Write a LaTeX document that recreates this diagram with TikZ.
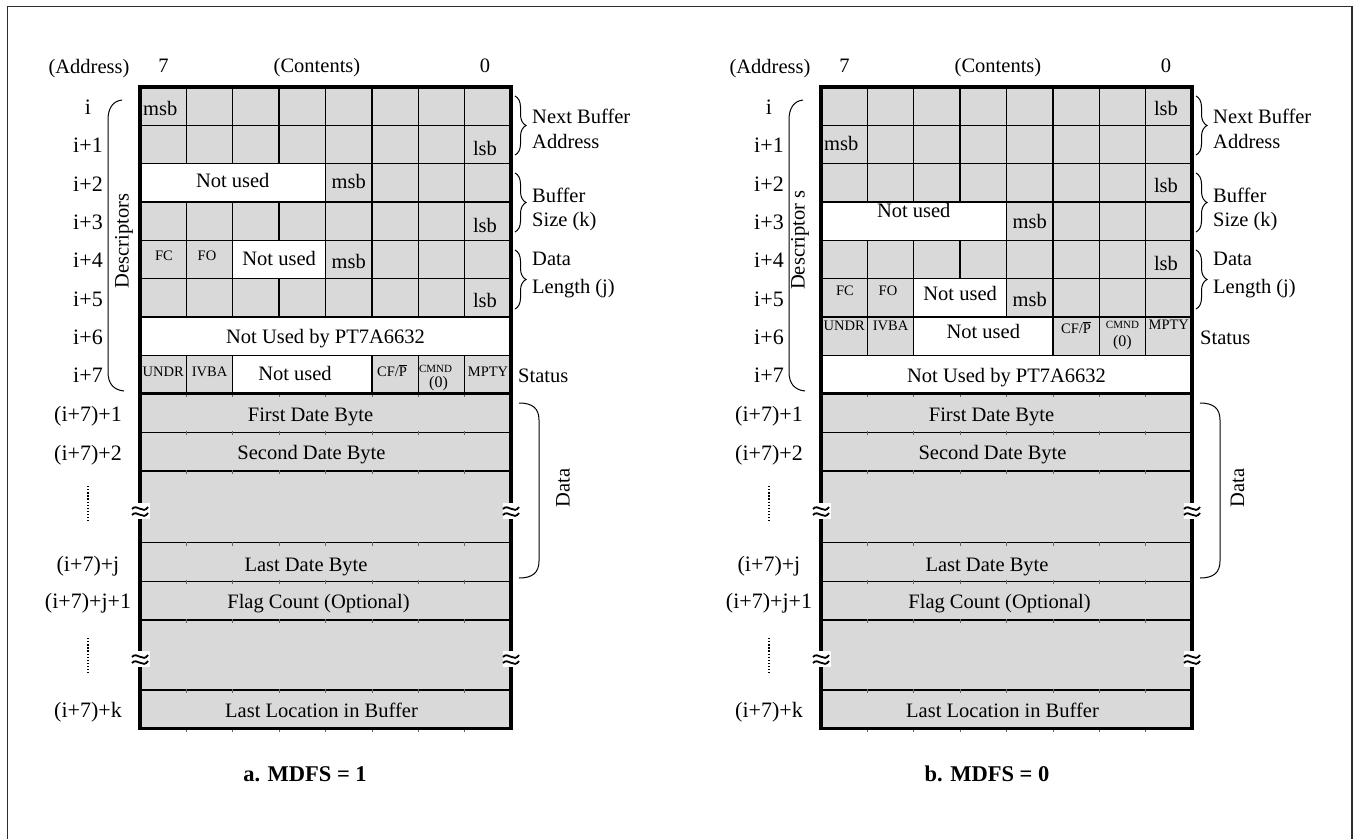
\documentclass[tikz,border=0pt]{standalone}
\usepackage{fontspec}
\setmainfont{Liberation Serif}
\usetikzlibrary{decorations.pathreplacing}
\definecolor{cellgray}{RGB}{217,217,217}
\definecolor{framegray}{RGB}{45,45,45}
\newcommand{\cw}{46.375}
\newcommand{\breakmark}[2]{%
  \fill[white] (#1-8,#2-8) rectangle (#1+10,#2+8);
  \draw[line width=1.8pt] (#1-8,#2-2) .. controls (#1-3,#2-8) and (#1+3,#2+4) .. (#1+8,#2-4);
  \draw[line width=1.8pt] (#1-8,#2+4) .. controls (#1-3,#2-2) and (#1+3,#2+10) .. (#1+8,#2+2);
}
\newcommand{\tablebase}{%
  \fill[cellgray] (0,87) rectangle (371,728.5);
  \foreach \yy in {432.3,471,542.7,581.3,620,690}{\draw[datasep] (0,\yy) -- (371,\yy);}
  \foreach \yy in {393.67,432.3,471,542.7,581.3,620,690,728.5}{%
    \foreach \k in {1,...,7}{\draw[coltick] (\k*\cw,\yy-1) -- (\k*\cw,\yy+3);}}
  \node[txt] at (170.5,421) {First Date Byte};
  \node[txt] at (171.5,459.5) {Second Date Byte};
  \node[txt] at (166,571) {Last Date Byte};
  \node[txt] at (178.5,608.5) {Flag Count (Optional)};
  \node[txt] at (181.5,717) {Last Location in Buffer};
  \node[txt] at (-51,73.5) {(Address)};
  \node[txt] at (23.5,72) {7};
  \node[txt] at (177,72.5) {(Contents)};
  \node[txt] at (345,72) {0};
  \node[addr] at (-52,114) {i};
  \node[addr] at (-52,152.5) {i+1};
  \node[addr] at (-52,191) {i+2};
  \node[addr] at (-52,229) {i+3};
  \node[addr] at (-52,267.5) {i+4};
  \node[addr] at (-52,306) {i+5};
  \node[addr] at (-52,344) {i+6};
  \node[addr] at (-52,382.5) {i+7};
  \node[addr] at (-52,421.5) {(i+7)+1};
  \node[addr] at (-52,460) {(i+7)+2};
  \node[addr] at (-52,571) {(i+7)+j};
  \node[addr] at (-52,608.5) {(i+7)+j+1};
  \node[addr] at (-52,717) {(i+7)+k};
  \draw[dotline] (-52,486) -- (-52,523);
  \draw[dotline] (-52,638) -- (-52,675);
  \draw[smallbrace] (375,96) -- (375,155);
  \draw[smallbrace] (375,173) -- (375,232);
  \draw[smallbrace] (375,250) -- (375,309);
  \node[txt,anchor=base west] at (392,123) {Next Buffer};
  \node[txt,anchor=base west] at (392,148) {Address};
  \node[txt,anchor=base west] at (392,202) {Buffer};
  \node[txt,anchor=base west] at (392,226) {Size (k)};
  \node[txt,anchor=base west] at (392,265) {Data};
  \node[txt,anchor=base west] at (392,293) {Length (j)};
  \draw[bigbrace] (379,403) .. controls (392,403) and (399,408) .. (399,420) -- (399,561) .. controls (399,573) and (392,578) .. (379,578);
  \draw[bigbrace] (-18,100) .. controls (-27,101) and (-32,108) .. (-32,120) -- (-32,372) .. controls (-32,384) and (-26,390) .. (-16,391);
}
\newcommand{\tableborder}{%
  \draw[tblborder] (0,87) rectangle (371,728.5);
  \draw[tblborder] (0,393.67) -- (371,393.67);
  \breakmark{0}{511}
  \breakmark{371}{511}
  \breakmark{0}{659}
  \breakmark{371}{659}
}
\begin{document}
\begin{tikzpicture}[x=1pt,y=-1pt,
  txt/.style={font=\fontsize{20.5}{24}\selectfont, inner sep=0pt, anchor=base},
  addr/.style={font=\fontsize{22}{26}\selectfont, inner sep=0pt, anchor=base},
  sm/.style={font=\fontsize{14.5}{16}\selectfont, inner sep=0pt, anchor=base},
  xs/.style={font=\fontsize{11}{12}\selectfont, inner sep=0pt, anchor=base},
  par/.style={font=\fontsize{16}{18}\selectfont, inner sep=0pt, anchor=base},
  capt/.style={font=\fontsize{22.5}{26}\selectfont\bfseries, inner sep=0pt, anchor=base},
  cellline/.style={line width=1.3pt},
  datasep/.style={line width=1.3pt},
  coltick/.style={line width=0.6pt, black!60},
  tblborder/.style={line width=3.2pt},
  dotline/.style={line width=1.3pt, dash pattern=on 1.3pt off 1.8pt},
  smallbrace/.style={decorate, decoration={brace, amplitude=11pt}, line width=1pt},
  bigbrace/.style={line width=1pt}]
\useasboundingbox (0,0) rectangle (1353,839);
\draw[line width=1.6pt, framegray] (7.5,839) -- (7.5,6.5) -- (1352,6.5) -- (1352,839);

% ---------------- table a ----------------
\begin{scope}[shift={(140,0)}]
  \tablebase
  \fill[white] (0,163.67) rectangle (4*\cw,202);
  \fill[white] (2*\cw,240.33) rectangle (4*\cw,278.67);
  \fill[white] (0,317) rectangle (371,355.33);
  \fill[white] (2*\cw,355.33) rectangle (5*\cw,393.67);
  \foreach \yy in {125.33,163.67,202,240.33,278.67,317,355.33}{\draw[cellline] (0,\yy)--(371,\yy);}
  \foreach \k in {1,...,7}{\draw[cellline] (\k*\cw,87)--(\k*\cw,163.67);}
  \foreach \k in {4,...,7}{\draw[cellline] (\k*\cw,163.67)--(\k*\cw,202);}
  \foreach \k in {1,...,7}{\draw[cellline] (\k*\cw,202)--(\k*\cw,240.33);}
  \foreach \k in {1,2,4,5,6,7}{\draw[cellline] (\k*\cw,240.33)--(\k*\cw,278.67);}
  \foreach \k in {1,...,7}{\draw[cellline] (\k*\cw,278.67)--(\k*\cw,317);}
  \foreach \k in {1,2,5,6,7}{\draw[cellline] (\k*\cw,355.33)--(\k*\cw,393.67);}
  \node[txt,anchor=base west] (amsb0) at (3,115) {msb};
  \node[txt] (alsb1) at (345,155) {lsb};
  \node[txt] (anu2) at (2*\cw,187) {Not used};
  \node[txt] (amsb2) at (4.5*\cw,188) {msb};
  \node[txt] (alsb3) at (345,232) {lsb};
  \node[sm] (afc) at (24,260) {FC};
  \node[sm] (afo) at (67,260) {FO};
  \node[txt] (anu4) at (3*\cw,265) {Not used};
  \node[txt] (amsb4) at (4.5*\cw,268) {msb};
  \node[txt] (alsb5) at (345,307) {lsb};
  \node[txt] (anupt) at (185.5,343.5) {Not Used by PT7A6632};
  \node[sm] (aundr) at (0.5*\cw,376.5) {UNDR};
  \node[sm] (aivba) at (1.5*\cw,376.5) {IVBA};
  \node[txt] (anu7) at (155,380) {Not used};
  \node[sm] (acfp) at (252,376) {CF/$\overline{\mbox{P}}$};
  \node[xs] (acmnd) at (295.6,372) {CMND};
  \node[par] (azero) at (298.5,387.5) {(0)};
  \node[sm] (ampty) at (348,376.5) {MPTY};
  \node[txt,anchor=base west] (astatus) at (378,382) {Status};
  \node[txt,rotate=90,anchor=center] (adesc) at (-16,241) {Descriptors};
  \node[txt,rotate=90,anchor=center] (adata) at (423,488) {Data};
  \tableborder
\end{scope}

% ---------------- table b ----------------
\begin{scope}[shift={(821,0)}]
  \tablebase
  \fill[white] (0,202) rectangle (4*\cw,240.33);
  \fill[white] (2*\cw,278.67) rectangle (4*\cw,317);
  \fill[white] (2*\cw,317) rectangle (5*\cw,355.33);
  \fill[white] (0,355.33) rectangle (371,393.67);
  \foreach \yy in {125.33,163.67,202,240.33,278.67,317,355.33}{\draw[cellline] (0,\yy)--(371,\yy);}
  \foreach \k in {1,...,7}{\draw[cellline] (\k*\cw,87)--(\k*\cw,202);}
  \foreach \k in {4,...,7}{\draw[cellline] (\k*\cw,202)--(\k*\cw,240.33);}
  \foreach \k in {1,...,7}{\draw[cellline] (\k*\cw,240.33)--(\k*\cw,278.67);}
  \foreach \k in {1,2,4,5,6,7}{\draw[cellline] (\k*\cw,278.67)--(\k*\cw,317);}
  \foreach \k in {1,2,5,6,7}{\draw[cellline] (\k*\cw,317)--(\k*\cw,355.33);}
  \node[txt] (blsb0) at (345,115) {lsb};
  \node[txt,anchor=base west] (bmsb1) at (3,150) {msb};
  \node[txt] (blsb2) at (345,192) {lsb};
  \node[txt] (bnu3) at (2*\cw,217) {Not used};
  \node[txt] (bmsb3) at (4.5*\cw,228) {msb};
  \node[txt] (blsb4) at (345,270) {lsb};
  \node[sm] (bfc) at (24,295) {FC};
  \node[sm] (bfo) at (67,295) {FO};
  \node[txt] (bnu5) at (3*\cw,300) {Not used};
  \node[txt] (bmsb5) at (4.5*\cw,306) {msb};
  \node[sm] (bundr) at (0.5*\cw,330) {UNDR};
  \node[sm] (bivba) at (1.5*\cw,330) {IVBA};
  \node[txt] (bnu6) at (3.5*\cw,338) {Not used};
  \node[sm] (bcfp) at (5.5*\cw,333) {CF/$\overline{\mbox{P}}$};
  \node[xs] (bcmnd) at (6.5*\cw,328) {CMND};
  \node[par] (bzero) at (6.5*\cw,346) {(0)};
  \node[sm] (bmpty) at (7.5*\cw,329) {MPTY};
  \node[txt] (bnupt) at (185.5,382) {Not Used by PT7A6632};
  \node[txt,anchor=base west] (bstatus) at (379,344) {Status};
  \node[txt,rotate=90,anchor=center] (bdesc) at (-21,240) {Descriptor s};
  \node[txt,rotate=90,anchor=center] (bdata) at (416.5,488) {Data};
  \tableborder
\end{scope}

\node[capt] (capa) at (305,781) {a. MDFS = 1};
\node[capt] (capb) at (987,781) {b. MDFS = 0};
\end{tikzpicture}
\end{document}
